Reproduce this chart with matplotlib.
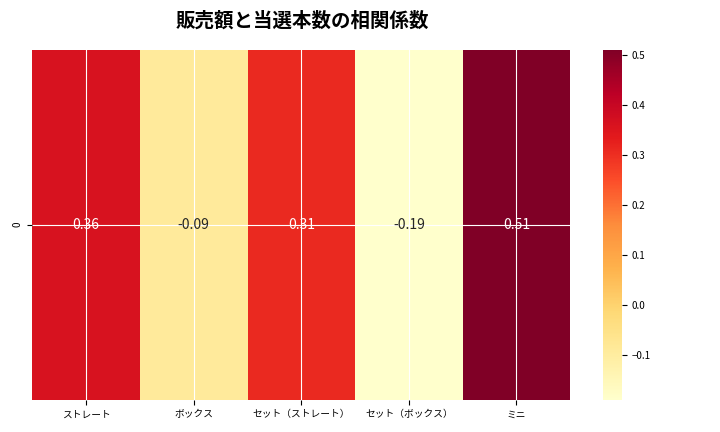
import matplotlib
matplotlib.use("Agg")
import matplotlib.pyplot as plt
import seaborn as sns
import numpy as np

plt.rcParams["font.family"] = "Noto Sans CJK JP"
categories = ["ストレート", "ボックス", "セット（ストレート）", "セット（ボックス）", "ミニ"]
values = [0.36, -0.09, 0.31, -0.19, 0.51]

fig = plt.figure(figsize=(7.2, 4.32), dpi=100)
ax = fig.add_axes([0.045, 0.075, 0.747, 0.81])
cax = fig.add_axes([0.838, 0.075, 0.026, 0.81])
sns.heatmap(np.array([values]), ax=ax, cbar_ax=cax, cmap="YlOrRd", annot=True, fmt=".2f",
            annot_kws={"fontsize": 10}, xticklabels=categories, yticklabels=["0"])
ax.grid(True, color="white", linewidth=0.8)
ax.set_axisbelow(False)
ax.tick_params(labelsize=7)
plt.setp(ax.get_xticklabels(), rotation=0)
cax.tick_params(labelsize=7)
fig.suptitle("販売額と当選本数の相関係数", fontsize=14, fontweight="bold", x=0.42, y=0.975)
fig.savefig("out.png")
